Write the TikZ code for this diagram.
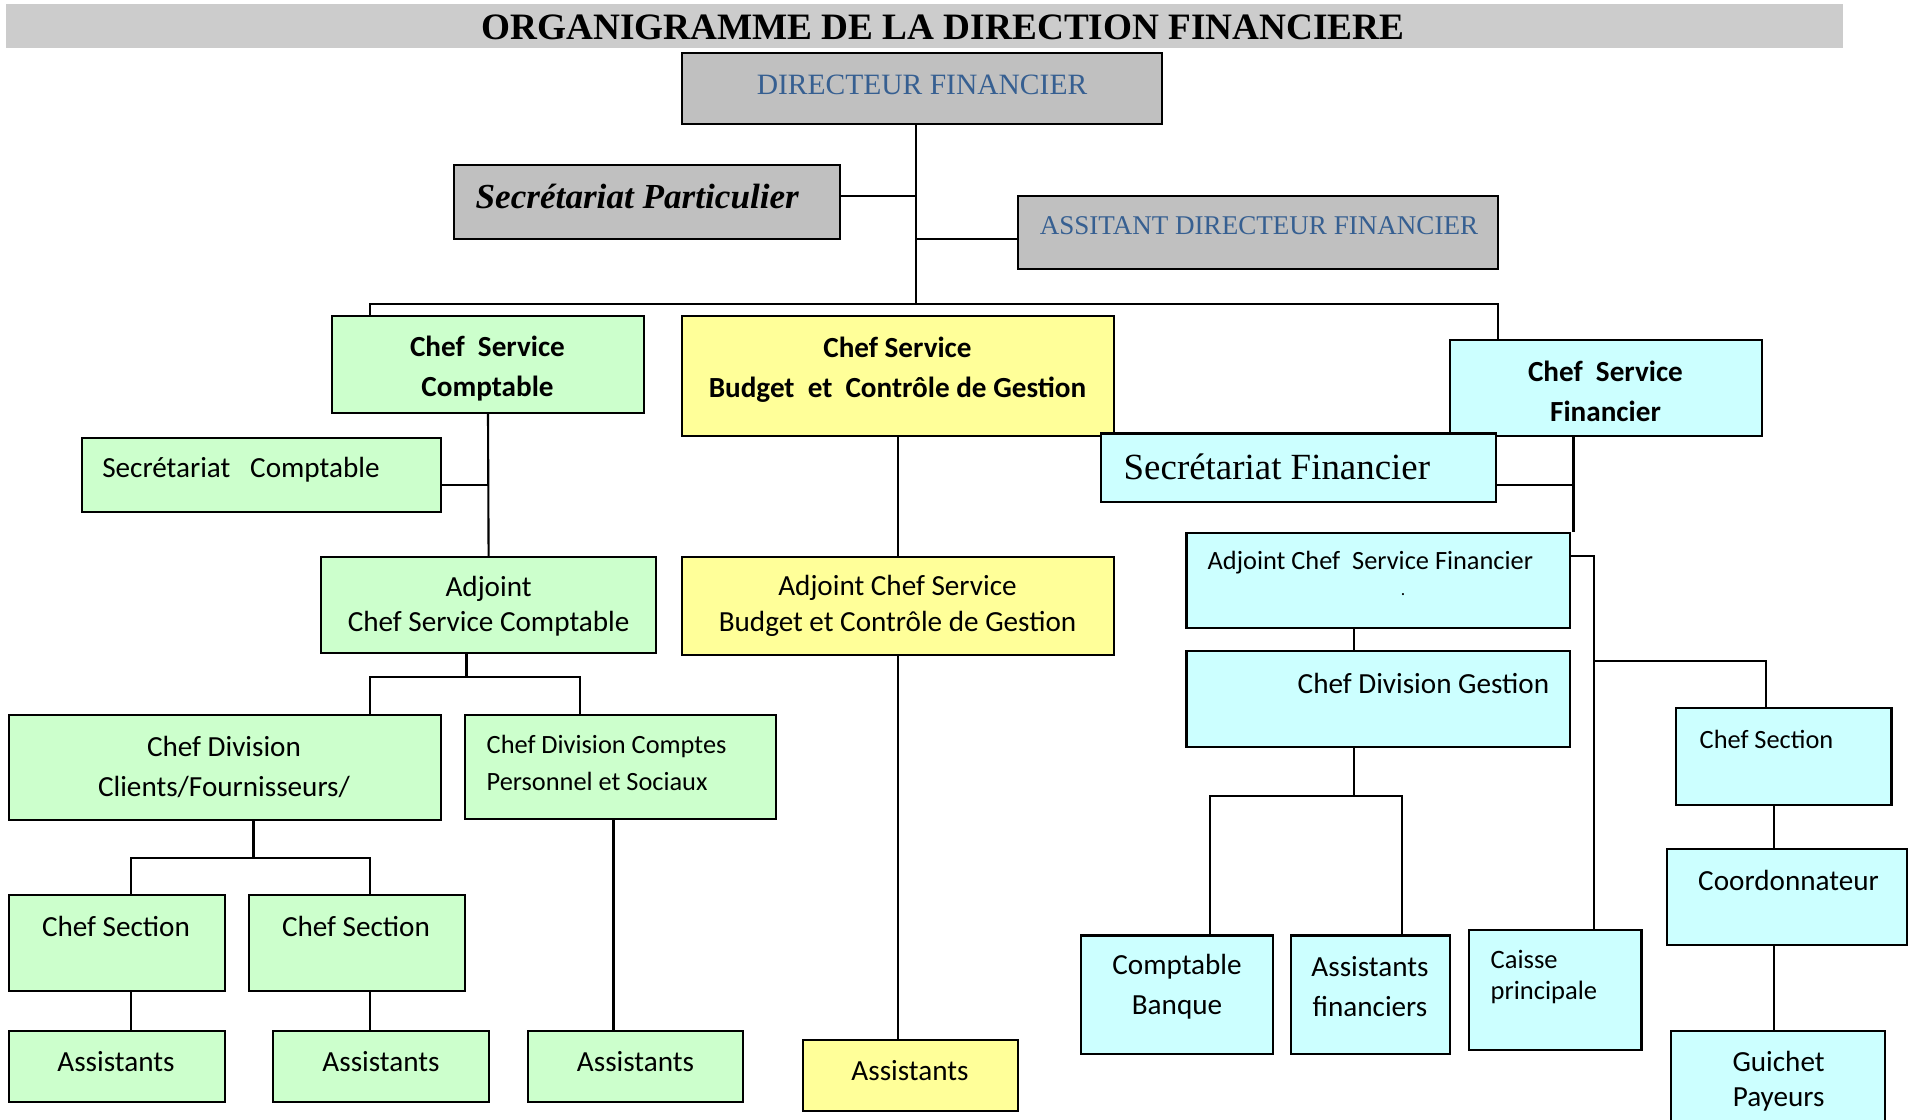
\documentclass[tikz,border=0pt]{standalone}
\usepackage{fontspec}
\setmainfont{Carlito}
\newfontfamily\timesf{Liberation Serif}
\usetikzlibrary{fit}
\definecolor{orggreen}{RGB}{204,255,204}
\definecolor{orgyellow}{RGB}{255,255,153}
\definecolor{orgcyan}{RGB}{204,255,255}
\definecolor{orggray}{RGB}{192,192,192}
\definecolor{titlegray}{RGB}{204,204,204}
\definecolor{dirblue}{RGB}{54,95,145}
\newcommand{\orgsize}[2]{\fontsize{#1}{#2}\selectfont}
\begin{document}
\begin{tikzpicture}[x=0.1mm,y=-0.1mm,
  box/.style={draw,line width=0.6pt,inner sep=0pt},
  link/.style={line width=0.6pt},
  lbl/.style={inner sep=0pt,align=center,font=\orgsize{8.3}{11.4}},
  lblsmall/.style={inner sep=0pt,align=left,font=\orgsize{7.5}{10.5}}]
  \useasboundingbox (0,0) rectangle (1920,1120);
  \clip (0,0) rectangle (1920,1120);
  % title
  \node[fill=titlegray,inner sep=0pt,fit={(6,4) (1843,48)}] (bar) {};
  \node[inner sep=0pt,font=\timesf\bfseries\orgsize{10.6}{12}] (title) at (943,27) {ORGANIGRAMME DE LA DIRECTION FINANCIERE};
  % direction
  \node[box,fill=orggray,fit={(682,53) (1162,124)}] (dir) {};
  \node[inner sep=0pt,text=dirblue,font=\timesf\orgsize{8.4}{10}] (dirT) at (922,85) {DIRECTEUR FINANCIER};
  \node[box,fill=orggray,fit={(454,165) (840,239)}] (secpart) {};
  \node[inner sep=0pt,anchor=west,font=\timesf\bfseries\itshape\orgsize{10}{12}] (secpartT) at (475,197) {Secrétariat Particulier};
  \node[box,fill=orggray,fit={(1018,196) (1498,269)}] (asst) {};
  \node[inner sep=0pt,text=dirblue,font=\timesf\orgsize{7.7}{10}] (asstT) at (1259,226) {ASSITANT DIRECTEUR FINANCIER};
  \coordinate (trunk) at (916,304);
  \coordinate (busL) at (370,304);
  \coordinate (busR) at (1498,304);
  \coordinate (sp) at (916,196);
  \coordinate (sa) at (916,239);
  \draw[link] (dir.south -| trunk) -- (trunk);
  \draw[link] (secpart.east |- sp) -- (sp);
  \draw[link] (asst.west |- sa) -- (sa);
  \draw[link] (busL |- 0,316) -- (busL) -- (busR) -- (busR |- 0,340);
  % service comptable
  \node[box,fill=orggreen,fit={(332,316) (644,413)}] (csc) {};
  \node[lbl,font=\bfseries\orgsize{8.3}{11.4}] (cscT) at (487.5,369) {Chef\ \ Service\\Comptable};
  \node[box,fill=orggreen,fit={(82,438) (441,512)}] (secc) {};
  \node[lbl,anchor=west] (seccT) at (101.6,470) {Secrétariat\ \ \ Comptable};
  \node[box,fill=orggreen,fit={(321,557) (656,653)}] (adjc) {};
  \node[lbl,font=\orgsize{8.3}{10.1}] (adjcT) at (488.6,606) {Adjoint\\Chef Service Comptable};
  \coordinate (cv) at (488.6,485);
  \draw[link] (csc.south) -- (cv |- adjc.north);
  \draw[link] (secc.east |- cv) -- (cv);
  \node[box,fill=orggreen,fit={(8.6,715) (441,820)}] (cdc) {};
  \node[lbl] (cdcT) at (224,767) {Chef Division\\Clients/Fournisseurs/};
  \node[box,fill=orggreen,fit={(465,715) (776,819)}] (cdp) {};
  \node[lblsmall,anchor=west] (cdpT) at (486,763) {Chef Division Comptes\\Personnel et Sociaux};
  \coordinate (lv) at (466.5,677);
  \draw[link] (adjc.south -| lv) -- (lv);
  \draw[link] (370,715) |- (lv) -| (580.4,715);
  \node[box,fill=orggreen,fit={(8.6,895) (225,990.6)}] (cs1) {};
  \node[lbl] (cs1T) at (116,926) {Chef Section};
  \node[box,fill=orggreen,fit={(248.6,895) (465,990.6)}] (cs2) {};
  \node[lbl] (cs2T) at (356,926) {Chef Section};
  \coordinate (dv) at (253.5,858);
  \draw[link] (cdc.south -| dv) -- (dv);
  \draw[link] (131,895) |- (dv) -| (370,895);
  \node[box,fill=orggreen,fit={(8.6,1031) (225,1102)}] (as1) {};
  \node[lbl] (as1T) at (116,1062) {Assistants};
  \node[box,fill=orggreen,fit={(273,1031) (488.6,1102)}] (as2) {};
  \node[lbl] (as2T) at (381,1062) {Assistants};
  \node[box,fill=orggreen,fit={(527.8,1031) (743,1102)}] (as3) {};
  \node[lbl] (as3T) at (635.5,1062) {Assistants};
  \draw[link] (cs1.south -| 131,0) -- (as1.north -| 131,0);
  \draw[link] (cs2.south -| 370,0) -- (as2.north -| 370,0);
  \draw[link] (cdp.south -| 613.5,0) -- (as3.north -| 613.5,0);
  % service budget
  \node[box,fill=orgyellow,fit={(682,316) (1114,436)}] (csb) {};
  \node[lbl,font=\bfseries\orgsize{8.3}{11.4}] (csbT) at (897.5,369.5) {Chef Service\\Budget\ \ et\ \ Contrôle de Gestion};
  \node[box,fill=orgyellow,fit={(682,557) (1114,655)}] (adjb) {};
  \node[lbl,font=\orgsize{8.3}{10.1}] (adjbT) at (897.5,606) {Adjoint Chef Service\\Budget et Contrôle de Gestion};
  \node[box,fill=orgyellow,fit={(803,1039.6) (1017.6,1110.6)}] (asb) {};
  \node[lbl] (asbT) at (910,1070.5) {Assistants};
  \draw[link] (csb.south) -- (adjb.north);
  \draw[link] (adjb.south) -- (adjb.south |- asb.north);
  % service financier
  \node[box,fill=orgcyan,fit={(1450,340) (1762,436)}] (csf) {};
  \node[lbl,font=\bfseries\orgsize{8.3}{11.4}] (csfT) at (1605.5,391.5) {Chef\ \ Service\\Financier};
  \node[box,fill=orgcyan,fit={(1101,433.5) (1496,502)}] (secf) {};
  \node[inner sep=0pt,anchor=west,font=\timesf\orgsize{10.5}{12}] (secfT) at (1123,466.5) {Secrétariat Financier};
  \node[box,fill=orgcyan,fit={(1186.5,532.7) (1570,628)}] (adjf) {};
  \node[lblsmall,anchor=west] (adjfT) at (1207,562.5) {Adjoint Chef\ \ Service Financier};
  \node[inner sep=0pt,font=\orgsize{5}{6}] (adjfDot) at (1403,595) {.};
  \node[box,fill=orgcyan,fit={(1186.5,651) (1570,747)}] (cdg) {};
  \node[lbl,anchor=west] (cdgT) at (1297,683) {Chef Division Gestion};
  \coordinate (fv) at (1573.5,485);
  \draw[link] (csf.south -| fv) -- (fv |- adjf.north);
  \draw[link] (secf.east |- fv) -- (fv);
  \coordinate (gv) at (1354,796);
  \draw[link] (adjf.south -| gv) -- (cdg.north -| gv);
  \draw[link] (cdg.south -| gv) -- (gv);
  \node[box,fill=orgcyan,fit={(1081,935.5) (1273,1054)}] (cb) {};
  \node[lbl,font=\orgsize{8.3}{11.4}] (cbT) at (1177,987) {Comptable\\Banque};
  \node[box,fill=orgcyan,fit={(1290.6,935.5) (1450,1054)}] (af) {};
  \node[lbl,font=\orgsize{8.3}{11.4}] (afT) at (1370,987) {Assistants\\financiers};
  \draw[link] (1210,935.5) |- (gv) -| (1402,935.5);
  \node[box,fill=orgcyan,fit={(1468.7,930) (1641.5,1050)}] (cp) {};
  \node[inner sep=0pt,align=left,anchor=west,font=\orgsize{7.55}{8.8}] (cpT) at (1490,977) {Caisse\\principale};
  \node[box,fill=orgcyan,fit={(1676,708) (1891.5,804.7)}] (cs3) {};
  \node[lblsmall,anchor=west] (cs3T) at (1699,739) {Chef Section};
  \node[box,fill=orgcyan,fit={(1667,849) (1906.8,945)}] (coo) {};
  \node[lbl,anchor=west] (cooT) at (1697.5,880) {Coordonnateur};
  \node[box,fill=orgcyan,fit={(1671,1030.7) (1885,1124)}] (gp) {};
  \node[lbl,font=\orgsize{8.3}{10}] (gpT) at (1778.6,1081) {Guichet\\Payeurs};
  \coordinate (fr) at (1594,556);
  \coordinate (fs) at (1766,661);
  \draw[link] (adjf.east |- fr) -- (fr) -- (fr |- cp.north);
  \draw[link] (fr |- fs) -- (fs) -- (fs |- cs3.north);
  \coordinate (rv) at (1774,0);
  \draw[link] (cs3.south -| rv) -- (coo.north -| rv);
  \draw[link] (coo.south -| rv) -- (gp.north -| rv);
\end{tikzpicture}
\end{document}
